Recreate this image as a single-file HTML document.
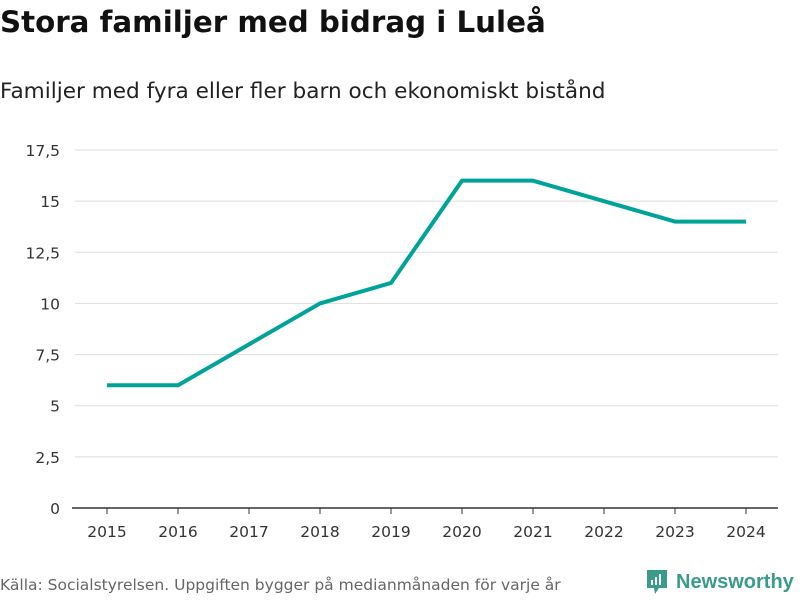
<!DOCTYPE html>
<html><head><meta charset="utf-8"><style>
body{margin:0;width:800px;height:600px;background:#fff;font-family:"DejaVu Sans","Liberation Sans",sans-serif;overflow:hidden;position:relative}
.t{position:absolute;left:0;top:5px;font-size:29.3px;font-weight:bold;color:#111;margin:0}
.s{position:absolute;left:0;top:79px;font-size:21.6px;color:#222}
.src{position:absolute;left:0;top:576px;font-size:15.5px;color:#666}
.logo{position:absolute;left:645px;top:568px;display:flex;align-items:center;gap:7px;color:#3a9a8c;font-size:20px;font-weight:bold;font-family:"Liberation Sans",sans-serif}
</style></head><body>
<h1 class="t">Stora familjer med bidrag i Luleå</h1>
<div class="s">Familjer med fyra eller fler barn och ekonomiskt bistånd</div>
<svg id="c" width="800" height="600" style="position:absolute;left:0;top:0"></svg>
<div class="src">Källa: Socialstyrelsen. Uppgiften bygger på medianmånaden för varje år</div>
<div class="logo"><svg width="24" height="28" viewBox="0 0 24 28"><path d="M2 2h20v18h-8l-4 6-1-6H2z" fill="#3a9a8c"/><rect x="6" y="12" width="2" height="5" fill="#fff"/><rect x="10" y="9" width="2" height="8" fill="#fff"/><rect x="14" y="6" width="2" height="11" fill="#fff"/></svg><span>Newsworthy</span></div>
<script>
const years=["2015","2016","2017","2018","2019","2020","2021","2022","2023","2024"];
const values=[6,6,8,10,11,16,16,15,14,14];
const yTicks=[0,2.5,5,7.5,10,12.5,15,17.5];
const yLabels=["0","2,5","5","7,5","10","12,5","15","17,5"];
const svg=document.getElementById('c');const NS="http://www.w3.org/2000/svg";
const x=i=>107+i*71, y=v=>508-v*(358/17.5);
function el(t,a){const e=document.createElementNS(NS,t);for(const k in a)e.setAttribute(k,a[k]);svg.appendChild(e);return e;}
yTicks.forEach((v,i)=>{
 if(v>0){const g=el('line',{x1:75,x2:778,y1:y(v),y2:y(v),stroke:'#ddd','stroke-width':1});
 
 }
 const t=el('text',{x:60,y:y(v)+6,'text-anchor':'end','font-size':15.5,fill:'#333','font-family':'DejaVu Sans, sans-serif'});t.textContent=yLabels[i];
 
 
});
const ax=el('line',{x1:72,x2:778,y1:508,y2:508,stroke:'#333','stroke-width':1.5});


years.forEach((yr,i)=>{
 const tk=el('line',{x1:x(i),x2:x(i),y1:508,y2:514,stroke:'#333'});
 
 
 const t=el('text',{x:x(i),y:537,'text-anchor':'middle','font-size':15.5,fill:'#333','font-family':'DejaVu Sans, sans-serif'});t.textContent=yr;
 
 
});
const p=el('polyline',{points:values.map((v,i)=>x(i)+','+y(v)).join(' '),fill:'none',stroke:'#00a399','stroke-width':4,'stroke-linejoin':'round'});


</script>
</body></html>
